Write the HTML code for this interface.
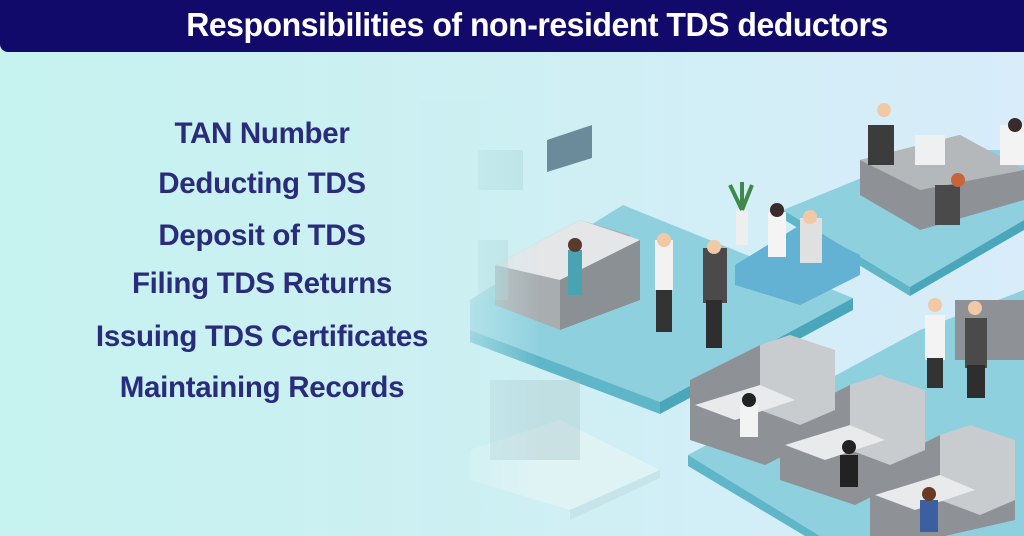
<!DOCTYPE html>
<html><head><meta charset="utf-8"><style>
html,body{margin:0;padding:0}
body{width:1024px;height:536px;overflow:hidden;position:relative;background:linear-gradient(90deg,#c6f2f0 0%,#cdf0f3 45%,#d8ecfa 100%);font-family:"Liberation Sans",sans-serif}
.hdr{position:absolute;left:0;top:0;width:1024px;height:52px;background:#120a6b;border-bottom-left-radius:8px}
.hdr div{position:absolute;left:0;width:1074px;top:6px;text-align:center;color:#fff;font-weight:bold;font-size:33px;letter-spacing:-0.5px;transform:scaleX(0.97);transform-origin:537px 0}
.it{position:absolute;width:524px;text-align:center;color:#2b2b7c;font-weight:bold;font-size:29.5px;letter-spacing:-0.3px}
svg{position:absolute;left:0;top:0}
</style></head><body>
<svg width="1024" height="536" viewBox="0 0 1024 536">
<defs>
<linearGradient id="fade" x1="0" x2="1"><stop offset="0" stop-color="#cbeff2" stop-opacity="1"/><stop offset="1" stop-color="#cbeff2" stop-opacity="0"/></linearGradient>
</defs>
<polygon points="470,450 560,420 660,470 570,510 470,480" fill="#dff3f5"/>
<polygon points="570,510 660,470 660,478 570,520" fill="#c7e4ea"/>
<polygon points="470,300 623,205 853,298 660,402 470,330" fill="#8fd0de"/>
<polygon points="470,330 660,402 660,414 470,342" fill="#5fb6c8"/>
<polygon points="660,402 853,298 853,310 660,414" fill="#4aa7bb"/>
<polygon points="783,210 930,150 1024,150 1024,220 910,287" fill="#8fd0de"/>
<polygon points="783,210 910,287 910,296 783,219" fill="#5fb6c8"/>
<polygon points="910,287 1024,220 1024,230 910,296" fill="#4aa7bb"/>
<polygon points="688,455 920,330 1024,290 1024,536 820,536" fill="#8fd0de"/>
<polygon points="688,455 820,536 805,536 688,466" fill="#5fb6c8"/>
<polygon points="495,265 580,220 630,235 630,300 560,330 495,305" fill="#a8adb0"/>
<polygon points="495,265 580,220 640,240 560,280" fill="#e4e6e8"/>
<polygon points="560,280 640,240 640,300 560,330" fill="#8b9094"/>
<polygon points="547,140 592,125 592,158 547,172" fill="#6b8a9a"/>
<rect x="655" y="240" width="18" height="50" fill="#f2f2f2"/><rect x="656" y="290" width="16" height="42" fill="#333"/>
<circle cx="664" cy="240" r="7" fill="#f1c9a5"/>
<rect x="703" y="248" width="24" height="55" fill="#4a4a4a"/><rect x="706" y="300" width="16" height="48" fill="#2e2e2e"/>
<circle cx="714" cy="247" r="7" fill="#f1c9a5"/>
<rect x="568" y="250" width="14" height="45" fill="#4aa3b3"/><circle cx="575" cy="245" r="7" fill="#5a3a2a"/>
<polygon points="735,265 800,225 860,255 860,275 800,305 735,285" fill="#63b1d3"/>
<rect x="768" y="212" width="18" height="45" fill="#f4f4f4"/><rect x="800" y="218" width="22" height="45" fill="#e0e0e0"/>
<circle cx="777" cy="210" r="7" fill="#3a2a2a"/><circle cx="810" cy="217" r="7" fill="#f1c9a5"/>
<rect x="736" y="210" width="12" height="35" fill="#eee"/><path d="M742 210 l-12 -25 M742 210 l10 -25 M742 210 l0 -28" stroke="#3f8a4a" stroke-width="4"/>
<polygon points="860,160 960,135 1024,170 1024,200 920,230 860,195" fill="#8e9296"/>
<polygon points="860,160 960,135 1024,170 920,190" fill="#b5b8bb"/>
<rect x="915" y="135" width="30" height="30" fill="#eef0f2"/>
<rect x="868" y="125" width="26" height="40" fill="#3c3c3c"/><circle cx="884" cy="110" r="7" fill="#f1c9a5"/>
<rect x="935" y="185" width="25" height="40" fill="#4a4a4a"/><circle cx="958" cy="180" r="7" fill="#c7643a"/>
<rect x="1000" y="125" width="24" height="40" fill="#f3f3f3"/><circle cx="1015" cy="125" r="7" fill="#3a2a2a"/>
<rect x="955" y="300" width="69" height="60" fill="#8e9296"/>
<rect x="925" y="315" width="20" height="45" fill="#f3f3f3"/><rect x="927" y="358" width="16" height="30" fill="#333"/><circle cx="935" cy="305" r="7" fill="#f1c9a5"/>
<rect x="965" y="318" width="22" height="50" fill="#4a4a4a"/><rect x="967" y="365" width="18" height="33" fill="#2e2e2e"/><circle cx="975" cy="308" r="7" fill="#f1c9a5"/>
<g fill="#8e9296">
<polygon points="690,380 760,345 835,360 835,430 765,465 690,440"/>
<polygon points="780,420 850,385 925,400 925,470 855,505 780,480"/>
<polygon points="870,470 940,435 1015,450 1015,520 945,536 870,536"/>
</g>
<g fill="#c9ccce">
<polygon points="760,345 790,335 835,350 835,410 800,425 760,410"/>
<polygon points="850,385 880,375 925,390 925,450 890,465 850,450"/>
<polygon points="940,435 970,425 1015,440 1015,500 980,515 940,500"/>
</g>
<g fill="#e8eaec">
<polygon points="695,405 760,385 795,400 735,420"/>
<polygon points="785,445 850,425 885,440 825,460"/>
<polygon points="875,495 940,475 975,490 915,510"/>
</g>
<rect x="740" y="405" width="18" height="32" fill="#f3f3f3"/><circle cx="749" cy="400" r="7" fill="#222"/>
<rect x="840" y="455" width="18" height="32" fill="#222"/><circle cx="849" cy="447" r="7" fill="#222"/>
<rect x="920" y="500" width="18" height="32" fill="#3b5fa0"/><circle cx="929" cy="494" r="7" fill="#6a3a22"/>
<rect x="478" y="150" width="45" height="40" fill="#9fcfcf" opacity="0.4"/>
<rect x="478" y="240" width="30" height="60" fill="#9fcfcf" opacity="0.4"/>
<rect x="490" y="380" width="90" height="80" fill="#9ab8bc" opacity="0.3"/>
<rect x="420" y="100" width="120" height="436" fill="url(#fade)"/>
</svg>
<div class="hdr"><div>Responsibilities of non-resident TDS deductors</div></div>
<div class="it" style="top:117px">TAN Number</div>
<div class="it" style="top:167px">Deducting TDS</div>
<div class="it" style="top:219px">Deposit of TDS</div>
<div class="it" style="top:267px">Filing TDS Returns</div>
<div class="it" style="top:320px">Issuing TDS Certificates</div>
<div class="it" style="top:371px">Maintaining Records</div>
</body></html>
